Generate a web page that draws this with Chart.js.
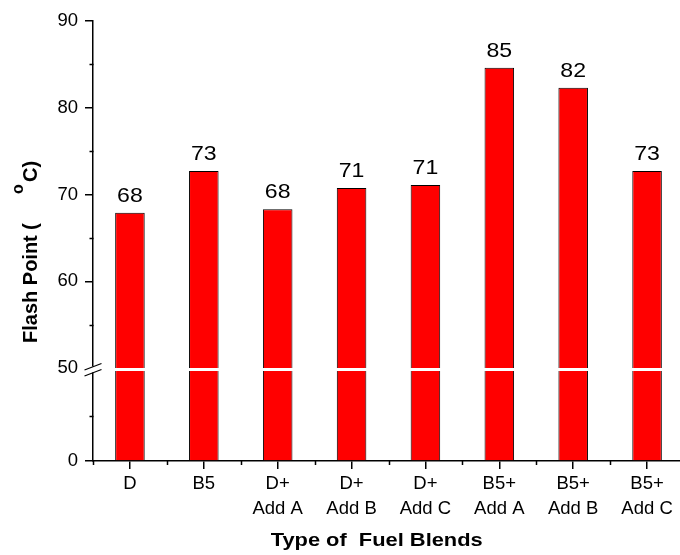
<!DOCTYPE html>
<html><head><meta charset="utf-8">
<script src="https://cdn.jsdelivr.net/npm/chart.js@4/dist/chart.umd.min.js"></script>
<style>html,body{margin:0;padding:0;overflow:hidden;background:#fff}#wrap{width:684px;height:555px}</style>
</head><body><div id="wrap"><canvas id="c" width="684" height="555"></canvas></div>
<script>
// ---- data ----
const categories = [['D'], ['B5'], ['D+', 'Add A'], ['D+', 'Add B'], ['D+', 'Add C'], ['B5+', 'Add A'], ['B5+', 'Add B'], ['B5+', 'Add C']];
const flashPoint = [67.9, 72.7, 68.3, 70.75, 71.1, 84.6, 82.3, 72.7];
const valueLabels = ['68', '73', '68', '71', '71', '85', '82', '73'];
const upperTicks = [50, 60, 70, 80, 90];
const upperMinorTicks = [55, 65, 75, 85];
const lowerTicks = [0];
const lowerMinorTicks = [25];
const BREAK_VALUE = 50;

const FONT = '"Liberation Sans", Arial, sans-serif';
const lowerPart = flashPoint.map(v => Math.min(v, BREAK_VALUE));

const decor = {
  id: 'decor',
  afterDraw(chart) {
    const ctx = chart.ctx;
    const yU = chart.scales.yUp, yL = chart.scales.yLow, x = chart.scales.x;
    const ca = chart.chartArea;
    const ax = Math.round(ca.left) + 0.5;
    ctx.save();
    ctx.strokeStyle = '#000';
    ctx.lineWidth = 1.5;
    // minor ticks
    ctx.beginPath();
    upperMinorTicks.forEach(v => { const p = Math.round(yU.getPixelForValue(v)) + 0.5; ctx.moveTo(ax - 4, p); ctx.lineTo(ax, p); });
    lowerMinorTicks.forEach(v => { const p = Math.round(yL.getPixelForValue(v)) + 0.5; ctx.moveTo(ax - 4, p); ctx.lineTo(ax, p); });
    for (let i = 0; i <= categories.length; i++) {
      const p = Math.round(x.getPixelForValue(i - 0.5)) + 0.5;
      ctx.moveTo(p, ca.bottom); ctx.lineTo(p, ca.bottom + 4);
    }
    ctx.stroke();
    // axis break
    const yb = (yU.getPixelForValue(BREAK_VALUE) + yL.getPixelForValue(BREAK_VALUE)) / 2;
    ctx.fillStyle = '#fff';
    ctx.fillRect(ax - 2, yb - 3, 4, 6);
    ctx.lineWidth = 1.2;
    ctx.beginPath();
    ctx.moveTo(ax - 9, yb + 0.5); ctx.lineTo(ax + 8, yb - 6);
    ctx.moveTo(ax - 9, yb + 6.5); ctx.lineTo(ax + 8, yb + 0);
    ctx.stroke();
    // value labels
    const meta = chart.getDatasetMeta(1);
    ctx.fillStyle = '#000';
    ctx.font = '21px ' + FONT;
    ctx.textAlign = 'center';
    ctx.textBaseline = 'alphabetic';
    meta.data.forEach((bar, i) => {
      ctx.save();
      ctx.translate(bar.x, bar.y - 11);
      ctx.scale(1.1, 1);
      ctx.fillText(valueLabels[i], 0, 0);
      ctx.restore();
    });
    // x title
    ctx.save();
    ctx.font = 'bold 19px ' + FONT;
    ctx.textBaseline = 'middle';
    ctx.translate(ca.left + 0.48 * (ca.right - ca.left), 541);
    ctx.scale(1.15, 1);
    ctx.fillText('Type of  Fuel Blends', 0, 0);
    ctx.restore();
    // y title (rotated, with superscript)
    ctx.translate(37, 343);
    ctx.rotate(-Math.PI / 2);
    ctx.textAlign = 'left';
    ctx.textBaseline = 'alphabetic';
    const main = 'bold 20px ' + FONT, sup = 'bold 16px ' + FONT;
    ctx.font = main; ctx.fillText('Flash Point', 0, 0);
    ctx.fillText('(', 113, 0);
    ctx.font = sup; ctx.fillText('o', 149, -14);
    ctx.font = main; ctx.fillText('C)', 161, 0);
    ctx.restore();
  }
};

const tickFont = { family: FONT, size: 18.5 };
new Chart(document.getElementById('c'), {
  type: 'bar',
  data: {
    labels: categories,
    datasets: [
      { label: 'below break', data: lowerPart, yAxisID: 'yLow', grouped: false,
        backgroundColor: '#ff0000', borderColor: '#000',
        borderWidth: { left: 1, right: 1, top: 0, bottom: 0 }, borderSkipped: false,
        barPercentage: 0.4, categoryPercentage: 1 },
      { label: 'Flash Point', data: flashPoint, yAxisID: 'yUp', grouped: false,
        backgroundColor: '#ff0000', borderColor: '#000',
        borderWidth: 1, borderSkipped: 'start',
        barPercentage: 0.4, categoryPercentage: 1 }
    ]
  },
  options: {
    responsive: false, animation: false, devicePixelRatio: 1,
    layout: { padding: { top: 21, left: 0, right: 0, bottom: 0 } },
    plugins: { legend: { display: false }, tooltip: { enabled: false } },
    scales: {
      x: {
        offset: true,
        grid: { drawOnChartArea: false, drawTicks: true, tickLength: 8, tickColor: '#000', tickWidth: 1.5, lineWidth: 1.5, offset: false },
        border: { display: true, color: '#000', width: 1.5 },
        ticks: { color: '#000', font: { family: FONT, size: 18.5, lineHeight: 1.35 }, padding: 2, maxRotation: 0, autoSkip: false },
        afterFit(s) { s.height = 94; }
      },
      yLow: {
        type: 'linear', position: 'left', stack: 'fp', stackWeight: 93,
        min: 0, max: 51.67,
        afterBuildTicks(s) { s.ticks = lowerTicks.map(v => ({ value: v })); },
        grid: { drawOnChartArea: false, tickLength: 8, lineWidth: 1.5, tickWidth: 1.5, tickColor: '#000' },
        border: { display: true, color: '#000', width: 1.5 },
        ticks: { color: '#000', font: tickFont, padding: 7 },
        afterFit(s) { s.width = 93; }
      },
      yUp: {
        type: 'linear', position: 'left', stack: 'fp', stackWeight: 347,
        min: 50, max: 90,
        afterBuildTicks(s) { s.ticks = upperTicks.map(v => ({ value: v })); },
        grid: { drawOnChartArea: false, tickLength: 8, lineWidth: 1.5, tickWidth: 1.5,
                tickColor: c => (c.tick && c.tick.value === BREAK_VALUE) ? 'rgba(0,0,0,0)' : '#000' },
        border: { display: true, color: '#000', width: 1.5 },
        ticks: { color: '#000', font: tickFont, padding: 7 },
        afterFit(s) { s.width = 93; }
      }
    }
  },
  plugins: [decor]
});
</script>
</body></html>
